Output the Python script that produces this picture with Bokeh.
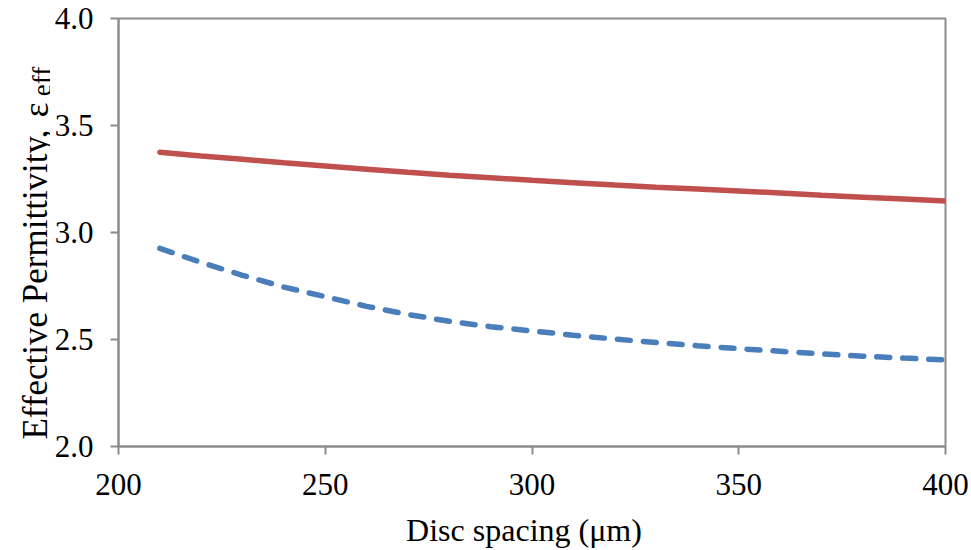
import math
from bokeh.plotting import figure
from bokeh.layouts import row
from bokeh.models import Range1d, NumeralTickFormatter, FixedTicker
from bokeh.core.properties import value
from bokeh.embed import file_html
from bokeh.resources import INLINE

# ---- data ----
spacing_um = [210, 220, 230, 240, 250, 260, 270, 280, 290, 300,
              310, 320, 330, 340, 350, 360, 370, 380, 390, 400]
eps_red = [3.375, 3.358, 3.342, 3.326, 3.311, 3.296, 3.281, 3.268, 3.256, 3.244,
           3.233, 3.222, 3.212, 3.203, 3.194, 3.185, 3.174, 3.165, 3.156, 3.147]
eps_blue = [2.926, 2.860, 2.800, 2.745, 2.700, 2.655, 2.617, 2.585, 2.560, 2.540,
            2.520, 2.502, 2.486, 2.471, 2.457, 2.445, 2.433, 2.422, 2.413, 2.405]
x_ticks = [200, 250, 300, 350, 400]
y_ticks = [2.0, 2.5, 3.0, 3.5, 4.0]
x_label = "Disc  spacing  (\u03bcm)"
y_label_main = "Effective  Permittivity,"
y_label_sym = "\u03b5"
y_label_sub = "eff"

FONT = "Liberation Serif"
GREY = "#8c8c8c"
TITLE_W = 50          # width of the strip that holds the vertical axis title
H = 550
FRAME_TOP, FRAME_BOTTOM = 18, 447   # plot frame edges, px from the top

# ---- strip holding the y-axis title (its frame is aligned with the chart frame;
#      coordinates are pixels, y measured upward from the bottom of the page) ----
ylab = figure(width=TITLE_W, height=H, output_backend="svg", toolbar_location=None,
              x_range=Range1d(0, TITLE_W), y_range=Range1d(H - FRAME_BOTTOM, H - FRAME_TOP),
              x_axis_type=None, y_axis_type=None, min_border=0,
              min_border_left=0, min_border_right=0)
ylab.outline_line_color = None
ylab.background_fill_color = "white"
ylab.border_fill_color = "white"

def vtext(fig, x, y_from_top, txt, size):
    fig.text(x=[x], y=[H - y_from_top], text=[txt], angle=math.pi / 2,
             text_font=value(FONT), text_font_size=size, text_color="black",
             text_align="left", text_baseline="alphabetic")

vtext(ylab, 35, 440, y_label_main, "35px")
vtext(ylab, 36, 117, y_label_sym, "35px")
vtext(ylab, 41, 96, y_label_sub, "27px")

# ---- main chart ----
p = figure(width=971 - TITLE_W, height=H, output_backend="svg", toolbar_location=None,
           x_range=Range1d(200, 400), y_range=Range1d(2.0, 4.0),
           min_border_left=118 - TITLE_W, min_border_right=26,
           min_border_top=FRAME_TOP, min_border_bottom=H - FRAME_BOTTOM)

p.background_fill_color = "white"
p.border_fill_color = "white"
p.outline_line_color = GREY
p.outline_line_width = 2
p.xgrid.visible = False
p.ygrid.visible = False

for ax in (p.xaxis[0], p.yaxis[0]):
    ax.axis_line_color = GREY
    ax.axis_line_width = 2
    ax.major_tick_line_color = GREY
    ax.major_tick_line_width = 2
    ax.major_tick_in = 0
    ax.major_tick_out = 8
    ax.minor_tick_line_color = None
    ax.major_label_text_font = FONT
    ax.major_label_text_font_size = "31px"
    ax.major_label_text_color = "black"

p.xaxis[0].ticker = FixedTicker(ticks=x_ticks)
p.yaxis[0].ticker = FixedTicker(ticks=y_ticks)
p.xaxis[0].formatter = NumeralTickFormatter(format="0")
p.yaxis[0].formatter = NumeralTickFormatter(format="0.0")
p.xaxis[0].major_label_standoff = 19
p.yaxis[0].major_label_standoff = 17

p.xaxis[0].axis_label = x_label
p.xaxis[0].axis_label_text_font = FONT
p.xaxis[0].axis_label_text_font_size = "32px"
p.xaxis[0].axis_label_text_font_style = "normal"
p.xaxis[0].axis_label_text_color = "black"
p.xaxis[0].axis_label_standoff = 14
p.yaxis[0].axis_label = None

p.line(spacing_um, eps_red, line_color="#C0504D", line_width=5.5, line_cap="round")
p.line(spacing_um, eps_blue, line_color="#4A7EBB", line_width=5.5,
       line_dash="13 13", line_cap="round")

layout = row(ylab, p, spacing=0)
open("out.html", "w").write(file_html(layout, INLINE))
